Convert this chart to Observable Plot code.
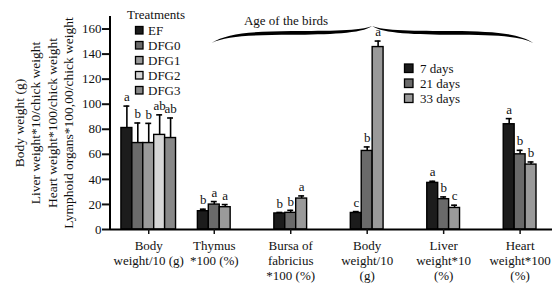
<!DOCTYPE html>
<html><head><meta charset="utf-8">
<script src="https://cdn.jsdelivr.net/npm/d3@7"></script>
<script src="https://cdn.jsdelivr.net/npm/@observablehq/plot@0.6"></script>
<style>body{margin:0;background:#fff} svg{display:block}</style>
</head><body><div id="chart"></div>
<script>
// ---- data ----
const treatments = ["EF", "DFG0", "DFG1", "DFG2", "DFG3"];
const treatmentBodyWeight = [81, 69, 69, 75.5, 73];
const treatmentBodyWeightErr = [17.5, 16, 15.7, 16, 16];
const treatmentLetters = ["a", "b", "b", "ab", "ab"];

const ages = ["7 days", "21 days", "33 days"];
const thymus = [14.6, 19.9, 17.8];
const thymusErr = [1.6, 2.4, 2.1];
const thymusLetters = ["b", "a", "a"];
const bursa = [12.8, 13.3, 24.7];
const bursaErr = [0.8, 2.0, 2.1];
const bursaLetters = ["b", "b", "a"];
const bodyWeightAge = [13.2, 62.7, 145.6];
const bodyWeightAgeErr = [1.1, 3.2, 4.8];
const bodyWeightAgeLetters = ["c", "b", "a"];
const liver = [37.2, 24.2, 17.2];
const liverErr = [1.3, 1.8, 2.2];
const liverLetters = ["a", "b", "c"];
const heart = [84, 60, 51.8];
const heartErr = [4.5, 3.2, 2.1];
const heartLetters = ["a", "b", "b"];

const groupLabels = [
  "Body\nweight/10 (g)",
  "Thymus\n*100 (%)",
  "Bursa of\nfabricius\n*100 (%)",
  "Body\nweight/10\n(g)",
  "Liver\nweight*10\n(%)",
  "Heart\nweight*100\n(%)"
];
const yTicks = [0, 20, 40, 60, 80, 100, 120, 140, 160];
const yTitleLines = [
  "Body weight (g)",
  "Liver weight*10/chick weight",
  "Heart weight*100/chick weight",
  "Lymphoid organs*100,00/chick weight"
];
const treatmentColors = ["#1c1c1c", "#6a6a6a", "#9a9a9a", "#d6d6d6", "#888888"];
const ageColors = ["#1c1c1c", "#6a6a6a", "#9a9a9a"];

// ---- build table ----
const FONT = '"Liberation Serif", "Times New Roman", Times, serif';
const groups = [
  {series: treatments, values: treatmentBodyWeight, errs: treatmentBodyWeightErr, letters: treatmentLetters},
  {series: ages, values: thymus, errs: thymusErr, letters: thymusLetters},
  {series: ages, values: bursa, errs: bursaErr, letters: bursaLetters},
  {series: ages, values: bodyWeightAge, errs: bodyWeightAgeErr, letters: bodyWeightAgeLetters},
  {series: ages, values: liver, errs: liverErr, letters: liverLetters},
  {series: ages, values: heart, errs: heartErr, letters: heartLetters}
];
const gapsBefore = [1, 2, 4, 4, 4, 4];
const domain = [], rows = [], tickKeys = [], tickLabel = new Map();
let gapN = 0;
groups.forEach((g, gi) => {
  for (let k = 0; k < gapsBefore[gi]; k++) domain.push("gap" + (gapN++));
  g.series.forEach((name, i) => {
    const key = gi + "|" + name;
    domain.push(key);
    rows.push({key, series: name, value: g.values[i], err: g.errs[i], letter: g.letters[i]});
  });
  const mid = gi + "|" + g.series[Math.floor(g.series.length / 2)];
  tickKeys.push(mid);
  tickLabel.set(mid, groupLabels[gi]);
});

function decorations(index, scales, values, dims) {
  const {x, y, color} = scales;
  const bw = x.bandwidth();
  const g = d3.create("svg:g").attr("font-family", FONT).attr("fill", "#111");
  const left = dims.marginLeft;
  // y axis line
  g.append("line").attr("x1", left).attr("x2", left)
    .attr("y1", y(0) + 1).attr("y2", y(170))
    .attr("stroke", "#000").attr("stroke-width", 2);
  // y title
  yTitleLines.forEach((t, i) => {
    g.append("text")
      .attr("transform", `translate(${24 + i * 16.4},123) rotate(-90)`)
      .attr("text-anchor", "middle").attr("font-size", 13.5).text(t);
  });
  // treatments legend
  g.append("text").attr("x", 127).attr("y", 18.5).attr("text-anchor", "start")
    .attr("font-size", 13).text("Treatments");
  treatments.forEach((t, i) => {
    const cy = 30.5 + i * 15;
    g.append("rect").attr("x", 135.5).attr("y", cy - 4).attr("width", 7.5).attr("height", 7.5)
      .attr("fill", color(t)).attr("stroke", "#000").attr("stroke-width", 1.3);
    g.append("text").attr("x", 148).attr("y", cy + 4.3).attr("text-anchor", "start")
      .attr("font-size", 13).text(t);
  });
  // ages legend
  ages.forEach((t, i) => {
    const cy = 68.3 + i * 15;
    g.append("rect").attr("x", 404.5).attr("y", cy - 4.3).attr("width", 8.5).attr("height", 8.5)
      .attr("fill", color(t)).attr("stroke", "#000").attr("stroke-width", 1.3);
    g.append("text").attr("x", 420).attr("y", cy + 4.5).attr("text-anchor", "start")
      .attr("font-size", 13).text(t);
  });
  // brace "Age of the birds"
  const L = x("1|" + ages[1]) + bw * 0.3;
  const P = x("3|" + ages[2]);
  const R = x("5|" + ages[2]) + bw * 0.75;
  const yEnd = y(148.5), yFlat = y(156.5), yPeak = y(162);
  const half = (a, p, s) => {
    const m = (a + p) / 2;
    const t = [
      [a + s * 15, yEnd - 8.5], [a + s * 40, yFlat + 0.3], [m, yFlat],
      [p - s * 45, yFlat - 0.2], [p - s * 10, yFlat - 0.6]
    ];
    const w = [1.3, 1.8, 1.9, 1.8, 1.4];
    const top = `M${a},${yEnd} C${t[0][0]},${t[0][1] - w[0]} ${t[1][0]},${t[1][1] - w[1]} ${t[2][0]},${t[2][1] - w[2]} C${t[3][0]},${t[3][1] - w[3]} ${t[4][0]},${t[4][1] - w[4]} ${p},${yPeak}`;
    const bot = ` C${t[4][0]},${t[4][1] + w[4]} ${t[3][0]},${t[3][1] + w[3]} ${t[2][0]},${t[2][1] + w[2]} C${t[1][0]},${t[1][1] + w[1]} ${t[0][0]},${t[0][1] + w[0]} ${a},${yEnd} Z`;
    return top + bot;
  };
  g.append("path").attr("d", half(L, P, 1)).attr("fill", "#000");
  g.append("path").attr("d", half(R, P, -1)).attr("fill", "#000");
  g.append("text").attr("x", 286).attr("y", 24.5).attr("text-anchor", "middle")
    .attr("font-size", 13).text("Age of the birds");
  return g.node();
}

const chart = Plot.plot({
  width: 552, height: 286,
  marginLeft: 110, marginRight: 16, marginTop: 16, marginBottom: 57,
  style: {fontFamily: FONT, fontSize: "13px", color: "#111", background: "#fff"},
  x: {type: "band", domain, padding: 0, axis: null},
  y: {domain: [0, 170], axis: null},
  color: {domain: [...treatments, ...ages], range: [...treatmentColors, ...ageColors]},
  marks: [
    Plot.ruleX(rows, {x: "key", y1: "value", y2: d => d.value + d.err, stroke: "#000", strokeWidth: 1.6}),
    Plot.tickY(rows, {x: "key", y: d => d.value + d.err, insetLeft: 2.5, insetRight: 2.5, stroke: "#000", strokeWidth: 1.6}),
    Plot.barY(rows, {x: "key", y: "value", fill: "series", stroke: "#000", strokeWidth: 1.4}),
    Plot.text(rows, {x: "key", y: d => d.value + d.err, text: "letter", dy: -9, fontSize: 13, fontFamily: FONT, fill: "#111"}),
    Plot.ruleY([0], {stroke: "#000", strokeWidth: 2, insetRight: -16}),
    Plot.axisY({ticks: yTicks, tickSize: 8, tickPadding: 1, strokeWidth: 2, fontSize: 13, fontFamily: FONT, label: null}),
    Plot.axisX({ticks: tickKeys, tickSize: 5, tickPadding: 5, strokeWidth: 1.5,
      tickFormat: k => tickLabel.get(k), fontSize: 13, fontFamily: FONT, lineHeight: 1.15, label: null}),
    decorations
  ]
});
document.getElementById("chart").append(chart);
</script>
</body></html>
